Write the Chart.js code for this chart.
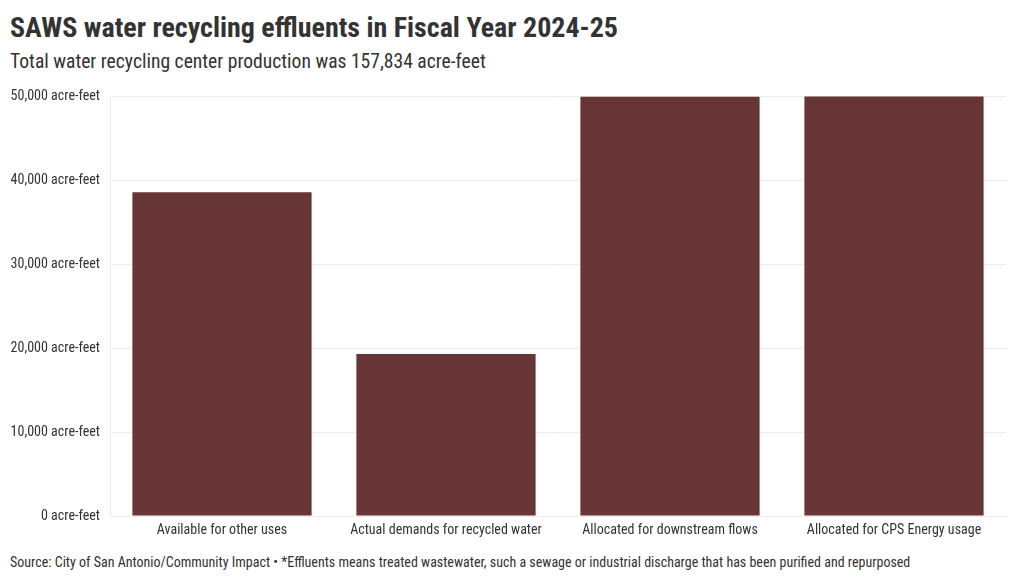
<!DOCTYPE html>
<html>
<head>
<meta charset="utf-8">
<script src="https://cdn.jsdelivr.net/npm/chart.js@4.4.1/dist/chart.umd.min.js"></script>
<style>
	html, body { margin: 0; padding: 0; background: #fff; }
	body { width: 1020px; height: 581px; position: relative; overflow: hidden;
		font-family: "Roboto Condensed", "DejaVu Sans Condensed", Roboto, sans-serif; color: #333; }
	#judul { position: absolute; left: 10px; top: 11px; font-size: 28px; font-weight: 700; color: #333; }
	#subjudul { position: absolute; left: 10px; top: 50px; font-size: 19.6px; color: #333; }
	#sumber { position: absolute; left: 10px; top: 554px; font-size: 14px; color: #333; }
	#wadah { position: absolute; left: 0; top: 78px; width: 1020px; height: 468px; }
</style>
</head>
<body>
<div id="judul">SAWS water recycling effluents in Fiscal Year 2024-25</div>
<div id="subjudul">Total water recycling center production was 157,834 acre-feet</div>
<div id="wadah"><canvas id="grafikEfluen"></canvas></div>
<div id="sumber">Source: City of San Antonio/Community Impact • *Effluents means treated wastewater, such a sewage or industrial discharge that has been purified and repurposed</div>
<script>
const kategori = [
	"Available for other uses",
	"Actual demands for recycled water",
	"Allocated for downstream flows",
	"Allocated for CPS Energy usage",
];
const nilaiAcreFeet = [38570, 19290, 50000, 50034];
const tickY = [0, 10000, 20000, 30000, 40000, 50000];

const fontUtama = '"Roboto Condensed", "DejaVu Sans Condensed", Roboto, sans-serif';

document.addEventListener("DOMContentLoaded", function () {
	const ctx = document.getElementById("grafikEfluen").getContext("2d");

	new Chart(ctx, {
		type: "bar",
		data: {
			labels: kategori,
			datasets: [
				{
					label: "Acre-feet",
					data: nilaiAcreFeet,
					backgroundColor: "#673536",
					borderWidth: 0,
					categoryPercentage: 0.8,
					barPercentage: 1,
				},
			],
		},
		options: {
			responsive: true,
			maintainAspectRatio: false,
			animation: false,
			layout: { padding: { top: 2, right: 14, left: 0, bottom: 0 } },
			scales: {
				x: {
					grid: { display: false, drawTicks: false },
					border: { display: false },
					ticks: {
						color: "#333",
						font: { family: fontUtama, size: 14 },
						padding: 6,
						maxRotation: 0,
					},
					afterFit: function (scale) {
						scale.height = 30;
					},
				},
				y: {
					min: 0,
					max: 50000,
					afterBuildTicks: function (scale) {
						scale.ticks = tickY.map((v) => ({ value: v }));
					},
					grid: { color: "#ebebeb", drawTicks: false },
					border: { display: true, color: "#ebebeb" },
					ticks: {
						color: "#333",
						padding: 10,
						font: { family: fontUtama, size: 14 },
						callback: function (value) {
							return value.toLocaleString("en-US") + " acre-feet";
						},
					},
					afterFit: function (scale) {
						scale.width = 110;
					},
				},
			},
			plugins: {
				legend: { display: false },
				tooltip: { enabled: false },
			},
		},
	});
});
</script>
</body>
</html>
